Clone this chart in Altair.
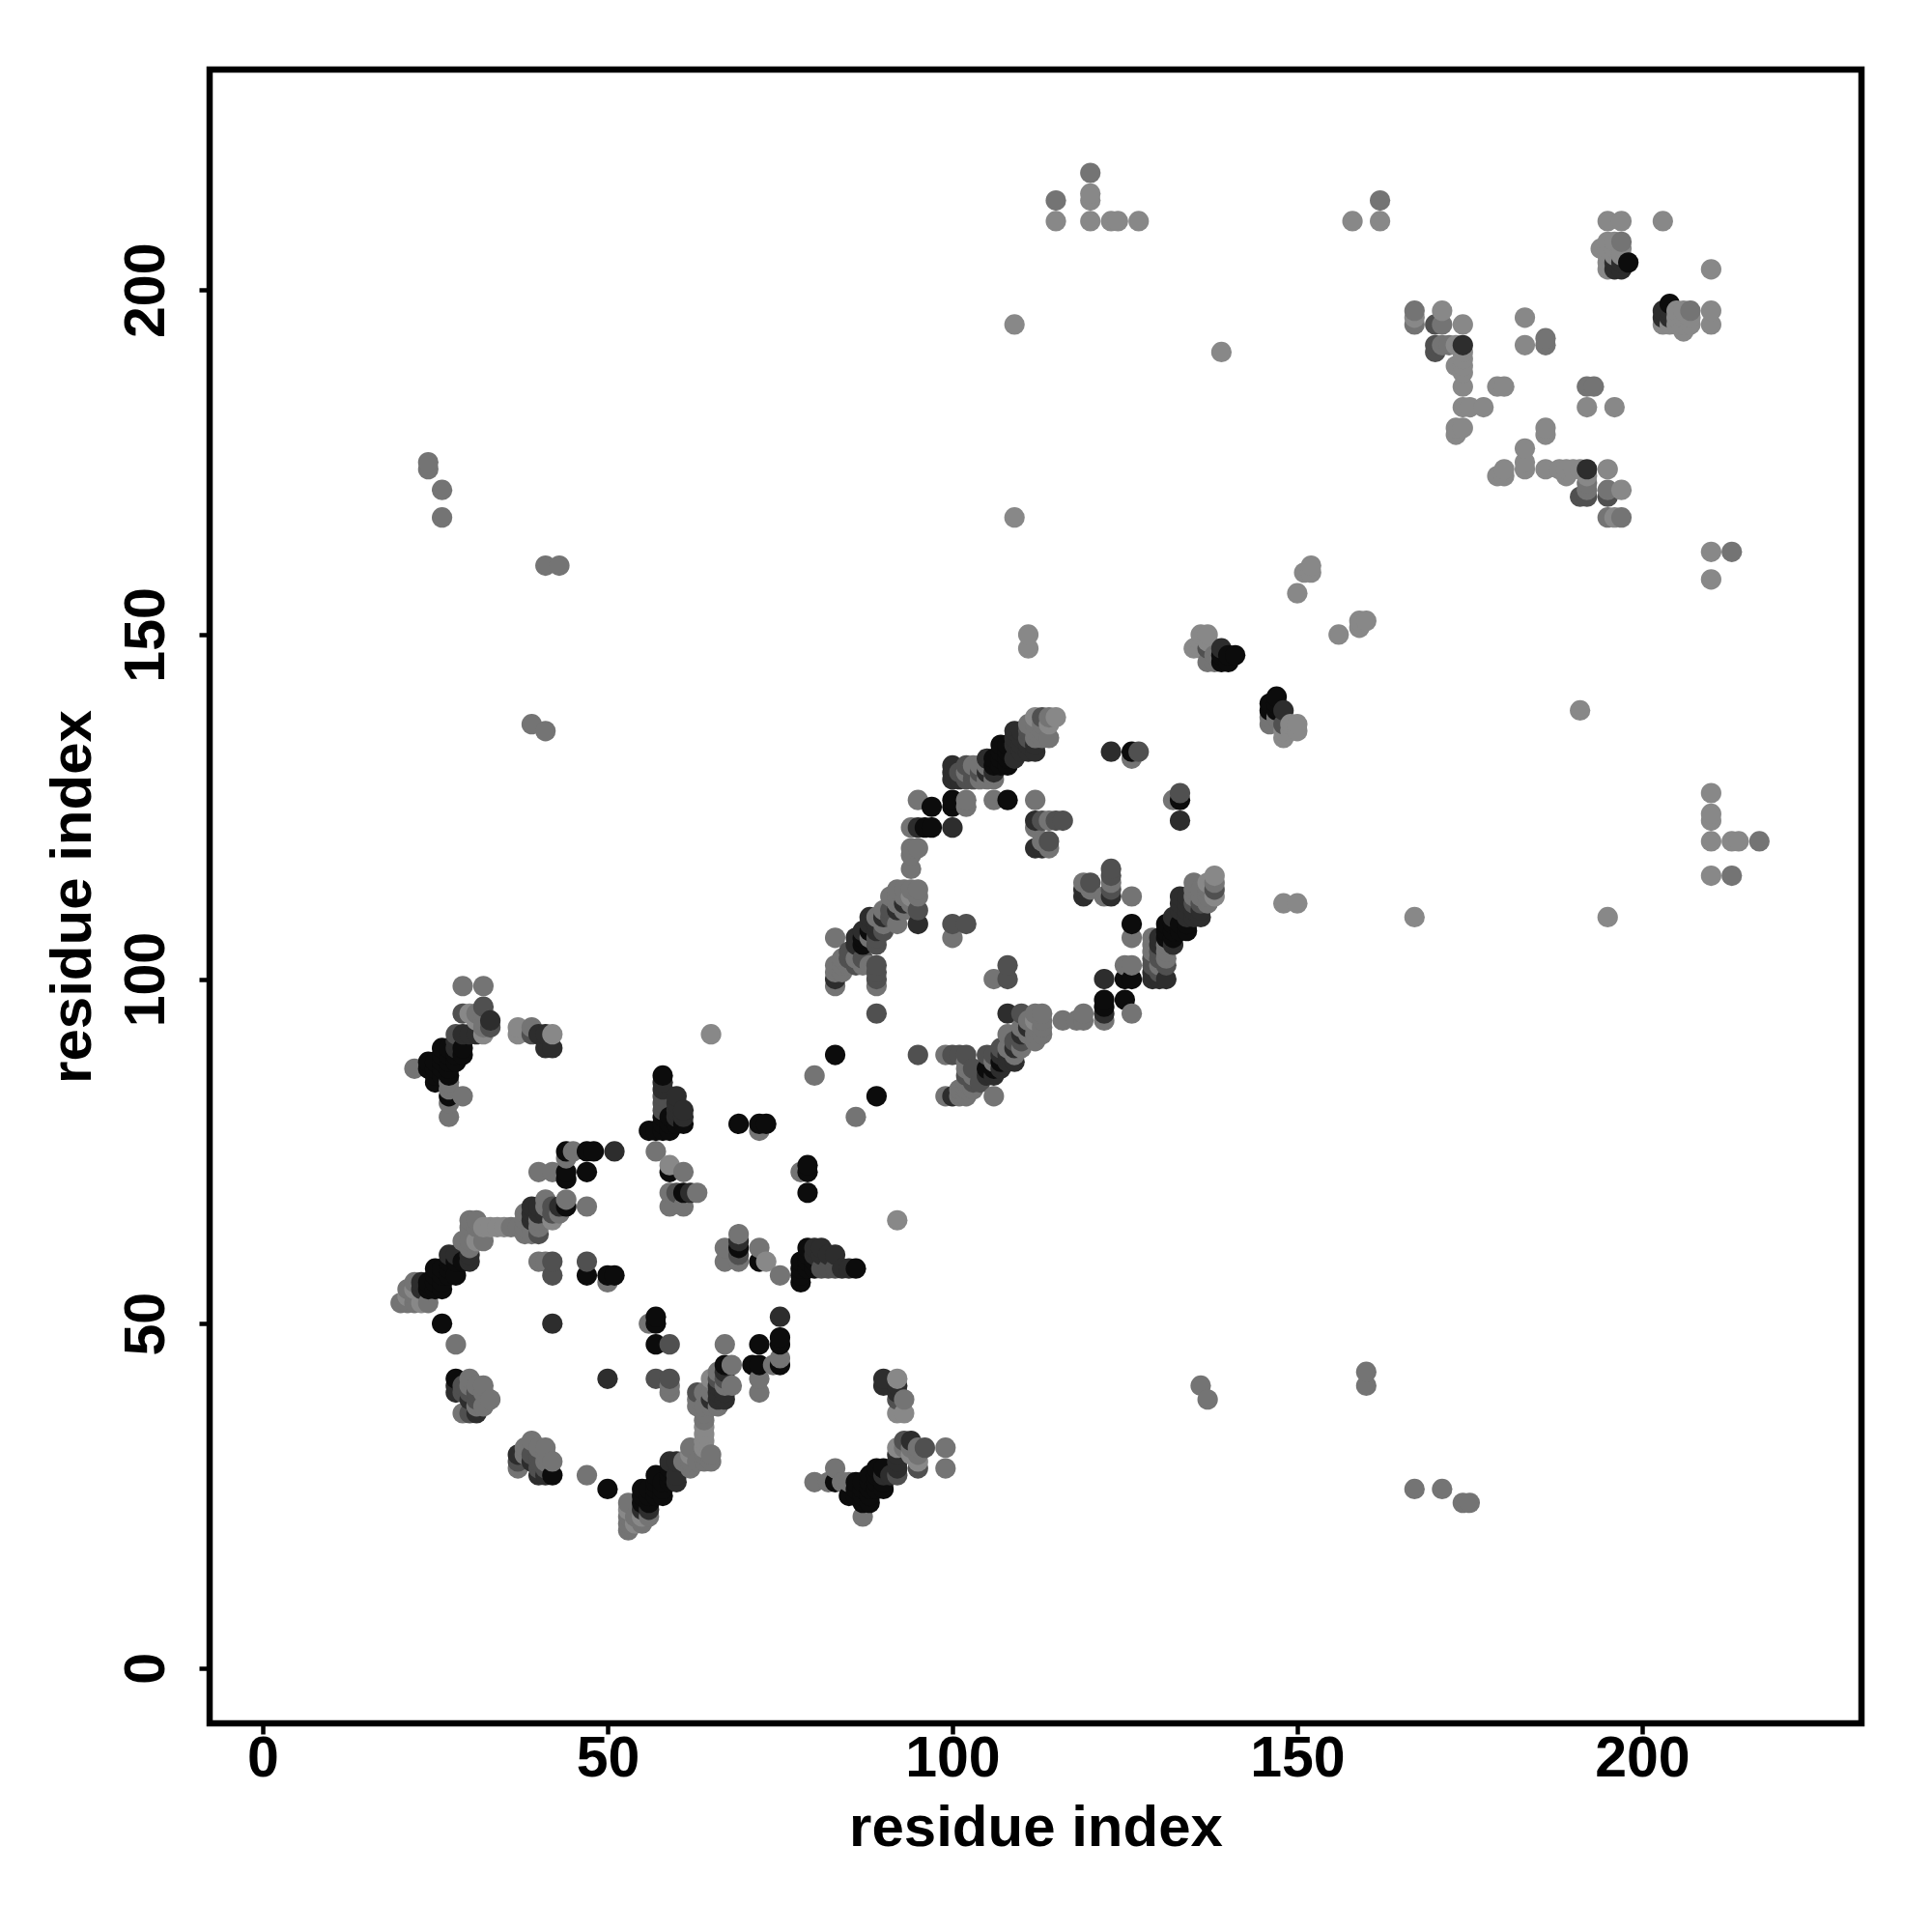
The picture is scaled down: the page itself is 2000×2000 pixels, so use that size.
import altair as alt
import pandas as pd

# contacts (i < j), one list per grey level
black = [
 (26,90),(27,90),(29,90),(29,89),(28,89),(27,89),(26,89),(24,88),(25,88),(26,88),(27,88),(28,88),(24,87),(25,87),(26,87),(27,87),
 (25,86),(26,86),(27,86),(25,85),(27,83),
 (24,56),(25,56),(26,56),(24,55),(25,55),(26,55),(25,57),(26,57),(27,57),(28,57),(25,58),(26,58),(27,58),(27,59),(28,59),(29,59),
 (26,50),(28,42),(58,86),(58,78),(57,78),(56,78),(58,79),(59,79),(60,79),(59,78),(58,80),(59,80),
 (44,75),(47,75),(48,75),(44,72),(44,71),(47,72),(59,72),(61,69),(47,57),(50,57),(51,57),(57,51),(57,50),(57,47),(72,59),
 (69,79),(72,79),(73,79),(79,73),(79,72),(79,69),(83,89),(89,83),
 (78,58),(78,57),(79,60),(79,59),(79,58),(80,59),(80,58),(86,58),(79,61),
 (72,47),(75,48),(75,47),(72,44),(71,44),(67,44),(75,44),(50,26),(42,28),
 (55,24),(55,25),(55,26),(56,24),(57,25),(57,26),(57,27),(57,28),(58,25),(58,26),(58,27),
 (106,131),(106,132),(107,131),(107,132),(107,133),(107,134),(108,131),(108,132),(108,133),(108,134),
 (88,107),(87,106),(100,125),(100,126),(108,126),(126,133),(126,108),(97,122),(97,125),(122,97),(125,97),(125,100),(126,100),(122,96),
 (106,87),(105,87),(133,107),(134,107),(131,106),(131,108),
 (139,146),(139,147),(140,146),(140,147),(141,147),(198,204),(204,198),
]
dark = [
 (29,92),(30,92),(31,92),(28,90),(28,91),(41,90),(42,90),(40,92),(41,92),(33,94),(60,83),(60,82),(60,81),(61,81),(61,80),(61,79),(60,80),
 (51,75),(43,67),(40,67),(39,65),(40,66),(27,60),(28,60),(30,59),(30,60),(23,55),(23,56),(62,69),(69,61),(58,85),(58,84),
 (80,61),(81,61),(82,60),(83,60),(78,56),(85,58),(75,51),(28,41),(28,40),(31,37),(30,39),(50,42),(42,50),(41,28),(31,37),
 (59,30),(60,30),(60,28),(60,27),(59,28),(56,23),(66,39),(67,39),(67,43),(66,41),
 (100,131),(100,130),(100,129),(101,129),(105,130),(105,132),(106,130),(109,136),(109,135),(109,134),(110,136),(110,135),(110,134),(110,133),(111,133),(112,133),
 (123,133),(95,122),(100,122),(112,123),(113,119),(86,106),(88,109),(90,109),(95,108),(88,108),(87,107),(89,107),(83,100),
 (123,112),(119,112),(122,100),(122,95),(108,95),(133,112),(133,111),(134,111),(134,112),(134,109),(132,109),(133,108),(133,110),(132,106),(132,105),
 (105,86),(106,86),(107,87),(107,88),(108,88),(108,89),(109,90),(110,92),(111,93),
 (139,148),(146,140),(147,141),(148,139),(174,192),(196,204),(196,203),(197,203),(197,204),(203,197),(203,196),(204,197),(204,196),
]
mid = [
 (28,92),(29,95),(32,96),(33,93),(39,92),(58,83),(60,69),(42,59),(47,59),(42,67),(69,62),(81,58),(82,58),(83,58),(42,66),
 (29,41),(29,40),(30,40),(57,42),(59,42),(59,47),(63,40),(37,31),(37,30),(40,31),(41,29),(40,29),(39,31),
 (89,95),(101,130),(102,131),(102,129),(103,130),(103,129),(104,130),(111,135),(111,136),(113,138),(113,123),(115,123),(116,123),(114,120),
 (89,102),(89,101),(89,100),(95,110),(100,108),(102,108),(108,102),(108,100),(89,105),(89,106),(90,107),(85,104),(91,110),(91,109),
 (119,113),(123,113),(123,115),(110,95),(137,148),(138,113),(170,195),(170,192),(170,191),(191,170),(192,170),(195,170),(86,102),(85,103),(87,103),(127,133),
]
grey = [
 (29,99),(32,99),(22,87),(27,85),(27,84),(27,82),(27,80),(29,83),(39,93),(42,67),(44,74),(45,75),(57,75),(61,72),(59,69),(63,69),(59,67),(61,67),
 (40,59),(41,59),(42,57),(50,56),(31,95),(32,95),(32,94),(32,93),(58,82),(38,66),(38,65),(38,63),(39,63),(40,63),(40,64),(36,64),(41,66),
 (41,68),(39,67),(28,47),(67,61),(67,59),(69,59),(69,63),(72,61),(75,57),(78,72),(72,78),(67,47),(80,86),(86,80),(59,41),(59,40),(32,38),(31,38),(72,40),(72,42),(74,44),(75,45),(68,44),
 (42,72),(40,72),(30,63),(29,62),(30,61),(32,41),(32,40),(31,41),(31,40),(31,39),(30,41),(30,37),(29,37),(33,39),(38,64),(37,64),(64,36),(39,66),(65,40),(65,39),
 (37,29),(42,30),(40,30),(41,32),(38,32),(53,24),(55,21),(56,22),(54,22),(53,20),(53,21),(53,22),
 (62,32),(62,30),(62,29),(61,30),(64,31),(65,31),(65,30),(64,30),(63,30),(66,42),(66,43),(67,41),
 (95,126),(102,126),(102,125),(106,126),(112,126),(94,122),(96,122),(112,122),(112,119),(113,120),(94,119),(95,119),(94,118),(94,116),(114,123),(126,132),
 (83,106),(100,106),(106,100),(108,102),(89,99),(83,99),(83,101),(83,102),(84,101),(84,102),(84,103),(85,102),(87,102),(87,105),(86,105),(89,108),(90,110),(90,108),(92,111),(91,112),(95,112),(92,112),(92,113),
 (119,114),(120,114),(122,112),(123,114),(123,116),(126,112),(126,106),(125,102),(126,102),(122,94),(126,95),(116,94),(118,94),(119,94),(119,95),(129,100),(129,101),(129,102),(129,103),(129,104),(129,106),(130,102),(130,103),(131,100),(131,102),(131,104),
 (103,129),(104,129),(105,129),(106,129),(103,131),(105,131),(111,137),(112,136),(112,135),(112,134),(113,136),(113,135),(114,135),(101,84),(102,84),(103,84),(99,83),(100,83),(102,88),(102,87),(102,86),(103,86),
 (108,92),(110,93),(111,94),(112,93),(112,95),(113,93),(113,94),(95,113),(94,113),(89,109),(88,106),
 (137,146),(138,146),(138,147),(146,138),(146,137),(147,138),(135,113),(135,114),(136,110),(136,111),(137,112),(137,113),(138,114),
 (197,167),(195,167),(186,192),(186,193),(192,186),(193,186),(192,171),(192,172),(192,174),(195,171),(171,192),(167,195),(167,197),(197,207),(207,197),
 (24,174),(26,171),(120,217),(115,213),(162,213),(160,41),(160,43),(136,41),(137,39),(171,26),(175,24),(167,26),
]
light = [
 (30,95),(31,94),(32,92),(37,92),(37,93),(42,92),(65,92),(92,65),(59,73),(44,68),(47,67),(31,65),(30,65),(30,64),(31,64),(32,64),(32,62),(33,64),(34,64),(35,64),(31,62),(30,62),
 (20,53),(21,53),(22,53),(24,53),(22,54),(21,54),(21,55),(22,55),(22,56),(72,78),(73,59),(69,63),(64,38),(63,38),(64,37),(65,42),(66,38),(67,44),(40,65),
 (29,37),(30,42),(30,39),(47,28),(39,33),(38,32),(41,32),(42,30),(37,30),(53,23),(54,21),(30,41),(31,41),(64,34),(64,33),(64,32),
 (104,131),(112,138),(114,138),(115,138),(114,137),(113,137),(112,137),(95,112),(94,113),(93,113),(93,112),(94,112),(89,109),(94,118),
 (135,148),(136,148),(136,149),(136,150),(137,150),(137,149),(137,149),(148,135),(149,136),(150,136),(149,137),(150,137),(148,136),
 (24,175),(26,167),(109,167),(109,195),(111,148),(111,150),(115,210),(120,214),(120,213),(120,210),(123,210),(124,210),(127,210),(158,210),(162,210),
 (150,156),(151,159),(152,160),(156,150),(159,151),(159,152),(160,152),(139,191),(148,111),(150,111),(191,139),
 (195,210),(197,210),(203,210),(210,203),(210,197),(210,195),(194,206),(195,207),(196,207),(195,206),(196,206),(197,206),(195,205),(196,205),(197,205),(195,204),(195,203),
 (203,195),(204,195),(205,197),(206,197),(205,196),(206,196),(207,196),(207,195),(206,195),(205,195),(206,194),(167,196),
 (171,197),(171,195),(174,195),(173,192),(174,191),(173,189),(174,189),(174,188),(174,186),(179,186),(180,186),(174,183),(175,183),(177,183),(173,180),(174,180),(173,179),
 (183,196),(183,192),(186,180),(186,179),(183,177),(183,175),(183,174),(180,174),(179,173),(180,173),(186,174),(188,174),(189,174),(189,173),(190,174),(195,174),(197,171),(192,183),(196,183),(197,167),
]
levels = [(black, 12), (dark, 45), (mid, 80), (grey, 116), (light, 136)]

tick_values = [0, 50, 100, 150, 200]

seen = {}
for pairs, level in levels:
    for i, j in pairs:
        a, b = min(i, j), max(i, j)
        seen.setdefault((a, b), level)
rows = []
for (a, b), level in seen.items():
    col = f"#{level:02x}{level:02x}{level:02x}"
    rows.append({"x": a, "y": b, "c": col})
    rows.append({"x": b, "y": a, "c": col})
df = pd.DataFrame(rows).sort_values(["x", "y"])

axis_common = dict(
    values=tick_values, grid=False, domain=False, title="residue index",
    tickColor="black", tickWidth=4.5, tickSize=11,
    labelColor="black", labelFont="Liberation Sans", labelFontWeight="bold", labelFontSize=59,
    titleColor="black", titleFont="Liberation Sans", titleFontWeight="bold", titleFontSize=60,
)

chart = alt.Chart(df).mark_circle(size=450, opacity=1).encode(
    x=alt.X("x:Q", scale=alt.Scale(domain=[-7.7, 231.8], nice=False, zero=False),
            axis=alt.Axis(labelPadding=-4, titlePadding=13, labelAngle=0, **axis_common)),
    y=alt.Y("y:Q", scale=alt.Scale(domain=[-8, 232], nice=False, zero=False),
            axis=alt.Axis(labelPadding=25, titlePadding=16, labelAngle=270, labelAlign="center", labelBaseline="bottom", **axis_common)),
    color=alt.Color("c:N", scale=None),
    order=alt.Order("x:Q"),
).properties(
    width=1710, height=1712,
    background="white",
    padding={"left": 209, "top": 64, "right": 60, "bottom": 200},
    autosize=alt.AutoSizeParams(type="none"),
).configure_view(stroke="#000000", strokeWidth=6.5)

chart.save("out.html", embed_options={"renderer": "svg", "actions": False})
